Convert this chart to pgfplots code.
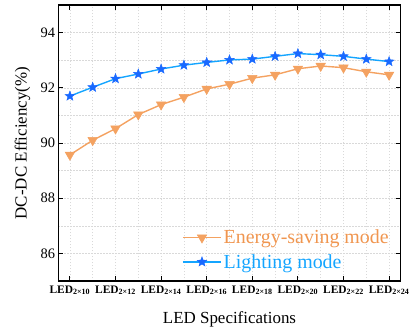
\documentclass[border=0pt]{standalone}
\usepackage{pgfplots}
\pgfplotsset{compat=1.18}
\usepackage{fontspec}
\setmainfont{Liberation Serif}
\definecolor{eorange}{RGB}{244,162,97}
\definecolor{eotext}{RGB}{240,150,80}
\definecolor{lblue}{RGB}{20,165,255}
\definecolor{sblue}{RGB}{25,105,255}
\pgfdeclareplotmark{fstar}{%
  \pgfpathmoveto{\pgfpointpolar{90}{\pgfplotmarksize}}%
  \pgfpathlineto{\pgfpointpolar{126}{0.42\pgfplotmarksize}}%
  \pgfpathlineto{\pgfpointpolar{162}{\pgfplotmarksize}}%
  \pgfpathlineto{\pgfpointpolar{198}{0.42\pgfplotmarksize}}%
  \pgfpathlineto{\pgfpointpolar{234}{\pgfplotmarksize}}%
  \pgfpathlineto{\pgfpointpolar{270}{0.42\pgfplotmarksize}}%
  \pgfpathlineto{\pgfpointpolar{306}{\pgfplotmarksize}}%
  \pgfpathlineto{\pgfpointpolar{342}{0.42\pgfplotmarksize}}%
  \pgfpathlineto{\pgfpointpolar{18}{\pgfplotmarksize}}%
  \pgfpathlineto{\pgfpointpolar{54}{0.42\pgfplotmarksize}}%
  \pgfpathclose
  \pgfusepathqfillstroke}
\begin{document}
\begin{tikzpicture}[x=1bp,y=1bp]
\begin{axis}[
  scale only axis,
  width=342bp, height=276bp,
  xmin=-0.5, xmax=14.5,
  ymin=85, ymax=95,
  xtick={0,2,4,6,8,10,12,14},
  minor xtick={1,3,5,7,9,11,13},
  xticklabels={LED\textsubscript{2×10},LED\textsubscript{2×12},LED\textsubscript{2×14},LED\textsubscript{2×16},LED\textsubscript{2×18},LED\textsubscript{2×20},LED\textsubscript{2×22},LED\textsubscript{2×24}},
  xticklabel style={font=\fontsize{11.5}{13}\selectfont\bfseries, yshift=-1bp},
  ytick={86,88,90,92,94},
  minor ytick={85,87,89,91,93,95},
  yticklabel style={font=\fontsize{14.5}{16}\selectfont},
  /pgf/number format/assume math mode=true,
  grid=both,
  major grid style={gray!30, dash pattern=on 1.5bp off 1.5bp, line width=0.5pt},
  minor grid style={gray!30, dash pattern=on 1.5bp off 1.5bp, line width=0.5pt},
  minor tick length=0pt,
  major tick length=5bp,
  tick align=inside,
  tick style={black, line width=1pt},
  axis line style={line width=1.4pt},
  xlabel={LED Specifications},
  ylabel={DC-DC Efficiency(\%)},
  label style={font=\fontsize{17}{20}\selectfont},
  xlabel style={at={(axis description cs:0.5,-0.14)}, anchor=center},
  ylabel style={at={(axis description cs:-0.105,0.5)}, anchor=center},
  legend style={draw=none, fill=none, at={(0.975,0.03)}, anchor=south east,
    font=\fontsize{20}{22}\selectfont, row sep=5bp, inner sep=1bp},
  legend cell align=left,
  legend image code/.code={%
    \draw[mark repeat=2,mark phase=2] plot coordinates {(0bp,0bp) (19bp,0bp) (38bp,0bp)};},
]
\addplot[color=eorange, line width=1.4pt, mark=triangle*, mark size=5.5bp, mark options={rotate=180, fill=eorange, draw=eorange, line width=0.5pt}]
coordinates {
(0,89.57) (1,90.10) (2,90.52) (3,91.03) (4,91.39) (5,91.66) (6,91.96) (7,92.13) (8,92.35) (9,92.47) (10,92.69) (11,92.79) (12,92.73) (13,92.58) (14,92.47)
};
\addlegendentry{\textcolor{eotext}{Energy-saving mode}}
\addplot[color=lblue, line width=1.4pt, mark=fstar, mark size=5bp, mark options={fill=sblue, draw=sblue, line width=0.5pt}]
coordinates {
(0,91.70) (1,92.02) (2,92.33) (3,92.50) (4,92.68) (5,92.82) (6,92.92) (7,93.01) (8,93.04) (9,93.14) (10,93.24) (11,93.20) (12,93.14) (13,93.04) (14,92.95)
};
\addlegendentry{\textcolor{lblue}{Lighting mode}}
\end{axis}
\pgfresetboundingbox
\path[use as bounding box] (-58.5,-51) rectangle (356.5,281);
\end{tikzpicture}
\end{document}
